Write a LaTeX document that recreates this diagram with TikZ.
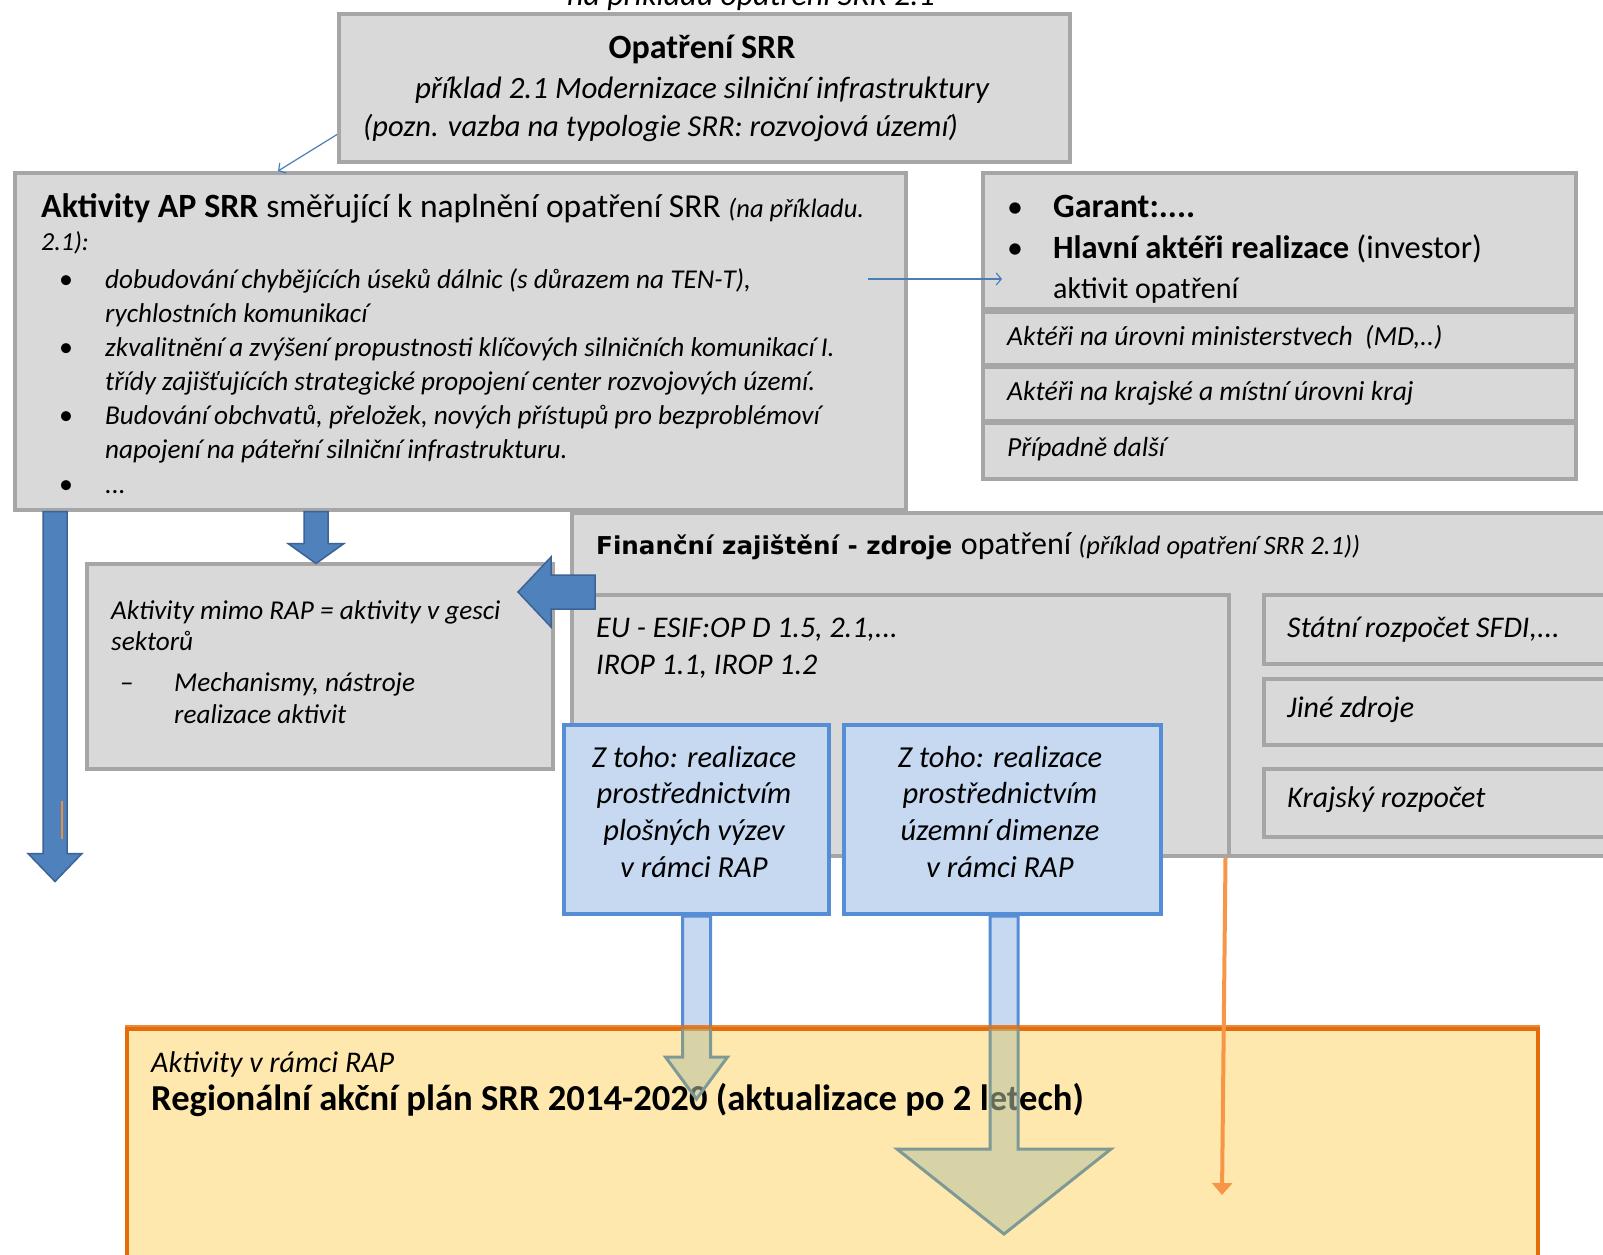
\documentclass[tikz,border=0pt]{standalone}
\usepackage{fontspec}
\setmainfont{Carlito}
\newfontfamily\widefont{DejaVu Sans}
\usetikzlibrary{arrows.meta,calc,positioning}

\definecolor{boxfill}{HTML}{D9D9D9}
\definecolor{boxedge}{HTML}{A6A6A6}
\definecolor{arrfill}{HTML}{4F81BD}
\definecolor{arredge}{HTML}{3B6396}
\definecolor{ltblue}{HTML}{C6D9F1}
\definecolor{ltedge}{HTML}{558ED5}
\definecolor{rapfill}{HTML}{FEE8AE}
\definecolor{rapedge}{HTML}{E46C0A}
\definecolor{orangearr}{HTML}{F79646}
\definecolor{thinblue}{HTML}{4A7EBB}
\definecolor{tanfill}{HTML}{B7C2A3}
\definecolor{tanedge}{HTML}{7F9A96}

\newcommand{\fsz}[1]{\fontsize{#1}{#1}\selectfont}
% block arrow pointing down: style, top centre, shaft length, shaft half width, head half width, head length
\newcommand{\blkdown}[6]{%
  \draw[#1] ($(#2)+(-#4,0)$) -- ++(0,#3) -- ++({#4-#5},0) -- ++(#5,#6) -- ++(#5,-#6) -- ++({#4-#5},0) -- ++(0,-#3) -- cycle;}

\begin{document}
\begin{tikzpicture}[x=1pt, y=-1pt,
    box/.style={draw=boxedge, fill=boxfill, line width=3.5pt, inner sep=0pt, anchor=north west},
    bluebox/.style={draw=ltedge, fill=ltblue, line width=4pt, inner sep=0pt, anchor=north west},
    rapbox/.style={draw=rapedge, fill=rapfill, line width=4pt, inner sep=0pt, anchor=north west},
    txt/.style={inner sep=0pt, anchor=base west},
    blkarrow/.style={draw=arredge, fill=arrfill, line width=1.5pt},
    shaft/.style={draw=ltedge, fill=ltblue, line width=3pt},
    tanshaft/.style={draw=tanedge, fill=tanfill, fill opacity=0.55, line width=3pt},
    thinarrow/.style={draw=thinblue, line width=1.2pt, -{Straight Barb[length=5pt,width=12pt]}},
    orangearrow/.style={draw=orangearr, line width=4pt, -{Triangle[width=20pt,length=12pt]}}]
    \useasboundingbox (0,0) rectangle (1603,1254);

    % cut-off caption at the top
    \node[txt, anchor=base, font=\itshape\fsz{32}] (cut) at (751,5) {na příkladu opatření SRR 2.1};

    % measure
    \node[box, minimum width=731, minimum height=148] (opat) at (337,12) {};
    \node[txt, anchor=base, font=\bfseries\fsz{34}] (opattitle) at (702,58) {Opatření SRR};
    \node[txt, anchor=base, font=\itshape\fsz{31}] (opatex) at (702,98) {příklad 2.1 Modernizace silniční infrastruktury};
    \node[txt, font=\itshape\fsz{30.5}] (opatnote) at (363,136) {(pozn. vazba na typologie SRR: rozvojová území)};

    % activities of the action plan
    \node[box, minimum width=891, minimum height=337] (aktiv) at (13,171) {};
    \node[txt] (akthead) at (41,217) {{\bfseries\fsz{34}Aktivity AP SRR }{\fsz{33.5}směřující k naplnění opatření SRR }{\itshape\fsz{26.5}(na příkladu.}};
    \node[txt, font=\itshape\fsz{26}] (akthead2) at (41,250) {2.1):};
    \foreach \b/\t [count=\i] in {1/{dobudování chybějících úseků dálnic (s důrazem na TEN-T),},
        0/{rychlostních komunikací},
        1/{zkvalitnění a zvýšení propustnosti klíčových silničních komunikací I.},
        0/{třídy zajišťujících strategické propojení center rozvojových území.},
        1/{Budování obchvatů, přeložek, nových přístupů pro bezproblémoví},
        0/{napojení na páteřní silniční infrastrukturu.},
        1/{...}}{
      \node[txt, font=\itshape\fsz{27.2}] (akt\i) at (105,{288+34.17*(\i-1)}) {\t};
      \ifnum\b=1 \node[txt, anchor=base, font=\fsz{28}] (aktb\i) at (66,{288+34.17*(\i-1)}) {•}; \fi
    }

    % actors
    \node[box, minimum width=593, minimum height=136] (garant) at (981,171) {};
    \node[box, minimum width=593, minimum height=53] (minis) at (981,310) {};
    \node[box, minimum width=593, minimum height=54] (krajb) at (981,365) {};
    \node[box, minimum width=593, minimum height=56] (dalsi) at (981,421) {};
    \node[txt, anchor=base, font=\fsz{32}] (gb1) at (1015,217) {•};
    \node[txt, anchor=base, font=\fsz{32}] (gb2) at (1015,258) {•};
    \node[txt, font=\bfseries\fsz{34}] (garanttxt) at (1053,217) {Garant:....};
    \node[txt, font=\fsz{32.5}] (hlavni) at (1053,258) {\textbf{Hlavní aktéři realizace} (investor)};
    \node[txt, font=\fsz{30}] (aktivit) at (1053,298) {aktivit opatření};
    \node[txt, font=\itshape\fsz{27.6}] (ministxt) at (1007,345) {Aktéři na úrovni ministerstvech~~(MD,..)};
    \node[txt, font=\itshape\fsz{27.6}] (krajtxt) at (1007,400) {Aktéři na krajské a místní úrovni kraj};
    \node[txt, font=\itshape\fsz{27.6}] (dalsitxt) at (1007,456) {Případně další};

    % financing
    \node[box, minimum width=1050, minimum height=343] (fin) at (570,511) {};
    \node[box, minimum width=657, minimum height=261] (eubox) at (570,593) {};
    \node[box, minimum width=358, minimum height=69] (statni) at (1262,593) {};
    \node[box, minimum width=358, minimum height=66] (jine) at (1262,677) {};
    \node[box, minimum width=358, minimum height=68] (krajr) at (1262,767) {};
    \node[txt] (finhead) at (596,554) {{\widefont\bfseries\fsz{24.6}Finanční zajištění - zdroje }{\fsz{32}opatření }{\itshape\fsz{26.5}(příklad opatření SRR 2.1))}};
    \node[txt, font=\itshape\fsz{30}] (eu1) at (596,637) {EU - ESIF:OP D 1.5, 2.1,...};
    \node[txt, font=\itshape\fsz{30}] (eu2) at (596,674) {IROP 1.1, IROP 1.2};
    \node[txt, font=\itshape\fsz{30}] (statnitxt) at (1287,637) {Státní rozpočet SFDI,...};
    \node[txt, font=\itshape\fsz{30}] (jinetxt) at (1287,717) {Jiné zdroje};
    \node[txt, font=\itshape\fsz{30}] (krajrtxt) at (1287,807) {Krajský rozpočet};

    % activities outside RAP
    \node[box, minimum width=466, minimum height=205] (mimo) at (85,562) {};
    \node[txt, font=\itshape\fsz{27.2}] (mimo1) at (111,619) {Aktivity mimo RAP = aktivity v gesci};
    \node[txt, font=\itshape\fsz{27.2}] (mimo2) at (111,650) {sektorů};
    \node[txt, font=\fsz{27.2}] (mimodash) at (120,691) {–};
    \node[txt, font=\itshape\fsz{27.2}] (mimo3) at (174,691) {Mechanismy, nástroje};
    \node[txt, font=\itshape\fsz{27.2}] (mimo4) at (174,723) {realizace aktivit};

    % block arrows
    \coordinate (longtop) at ($(aktiv.south west)+(42,0)$);
    \coordinate (shorttop) at ($(aktiv.south west)+(303,0)$);
    \blkdown{blkarrow}{longtop}{342}{12}{27}{28}
    \blkdown{blkarrow}{shorttop}{32}{12}{28}{20}
    \draw[blkarrow] ($(fin.north west)+(25,64)$) -- ++(-44,0) -- ++(0,-18) -- ++(-33,35) -- ++(33,35) -- ++(0,-18) -- ++(44,0) -- cycle;
    \draw[draw=orangearr!70!brown, line width=1.5pt] ($(longtop)+(7,289)$) -- ++(0,38);

    % RAP calls and the plan
    \node[bluebox, minimum width=265, minimum height=189] (blue1) at (562,723) {};
    \node[bluebox, minimum width=317, minimum height=189] (blue2) at (842,723) {};
    \coordinate (s1top) at (blue1.south);
    \coordinate (s2top) at ($(blue2.south)+(1.5,0)$);
    \blkdown{shaft}{s1top}{141}{14}{31}{42}
    \blkdown{shaft}{s2top}{233}{14}{107}{85}
    \node[rapbox, minimum width=1411, minimum height=260] (rap) at (125,1027) {};
    \node[txt, font=\itshape\fsz{30}] (rapsub) at (151,1072) {Aktivity v rámci RAP};
    \node[txt, font=\bfseries\fsz{36.6}] (raptitle) at (151,1110) {Regionální akční plán SRR 2014-2020 (aktualizace po 2 letech)};
    \begin{scope}
      \clip (rap.north west) rectangle (rap.south east);
      \blkdown{tanshaft}{s1top}{141}{14}{31}{42}
      \blkdown{tanshaft}{s2top}{233}{14}{107}{85}
    \end{scope}
    \draw[rapedge, line width=4pt, opacity=0.8] (rap.north west) -- (rap.north east);
    \node[bluebox, minimum width=265, minimum height=189] (blue1) at (562,723) {};
    \node[bluebox, minimum width=317, minimum height=189] (blue2) at (842,723) {};
    \foreach \t [count=\i] in {Z toho: realizace, prostřednictvím, plošných výzev, v rámci RAP}
      \node[txt, anchor=base, font=\itshape\fsz{30.5}] (za\i) at (694,{767+36.7*(\i-1)}) {\t};
    \foreach \t [count=\i] in {Z toho: realizace, prostřednictvím, územní dimenze, v rámci RAP}
      \node[txt, anchor=base, font=\itshape\fsz{30.5}] (zb\i) at (1000,{767+36.7*(\i-1)}) {\t};

    % connectors
    \draw[orangearrow] ($(eubox.south east)+(-5,0)$) -- ($(rap.north west)+(1097,168)$);
    \draw[thinarrow] ($(opat.south west)+(0,-29)$) -- ($(aktiv.north west)+(265,0)$);
    \draw[thinarrow] ($(aktiv.north east)+(-40,108)$) -- ($(garant.north west)+(21,108)$);
\end{tikzpicture}
\end{document}
